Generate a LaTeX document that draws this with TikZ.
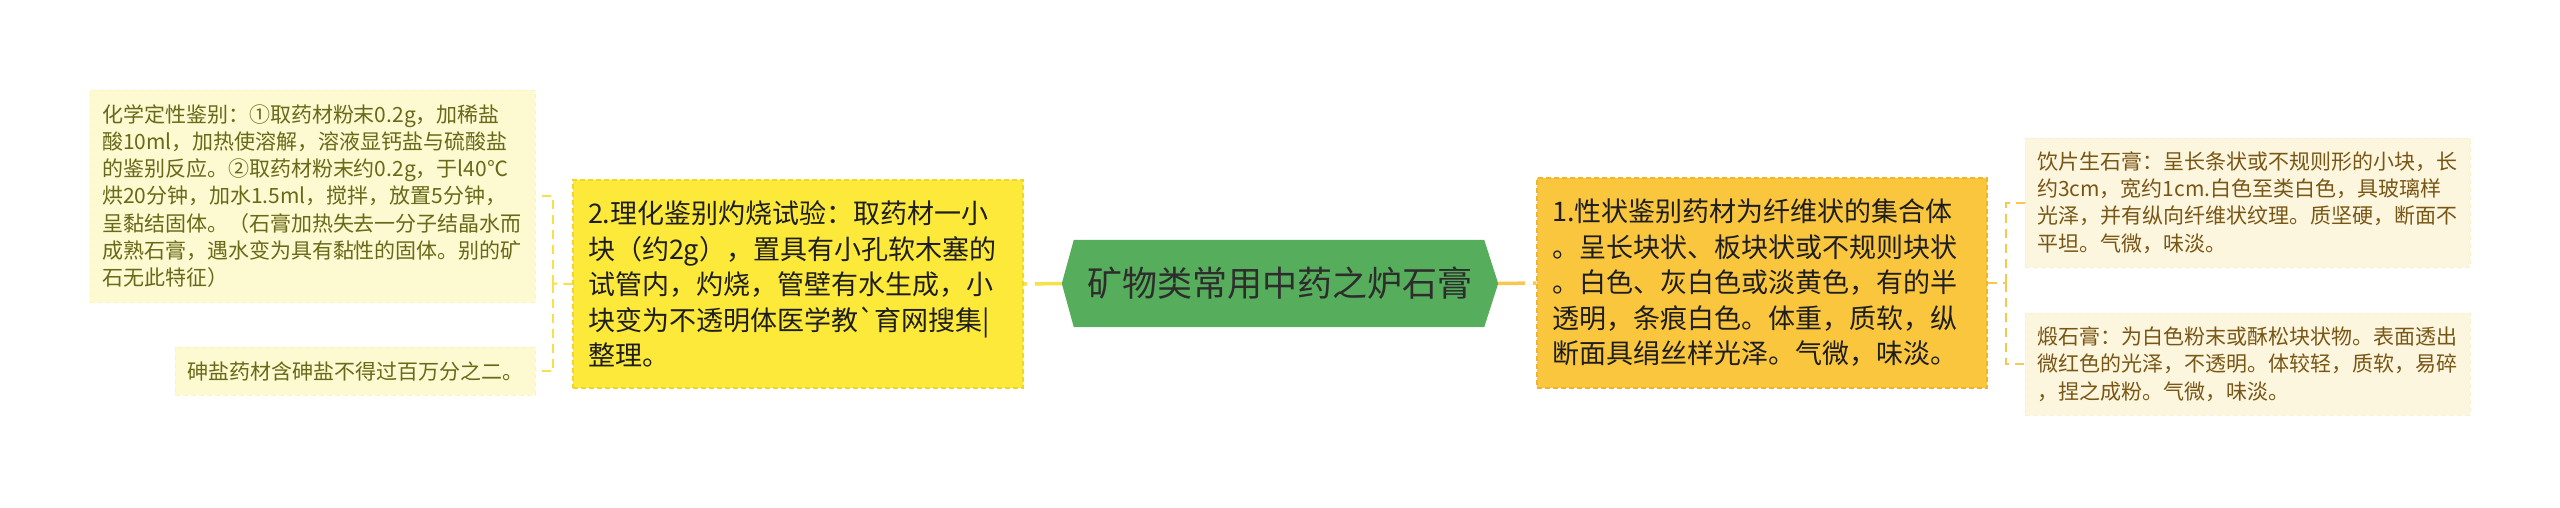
\documentclass[tikz,border=0pt]{standalone}
\usepackage{fontspec}
\newfontfamily\cjk{Noto Sans CJK SC}
\pgfdeclarelayer{bg}
\pgfsetlayers{bg,main}
\definecolor{rootgreen}{RGB}{86,174,92}
\definecolor{roottext}{RGB}{45,45,45}
\definecolor{ybox}{RGB}{252,233,58}
\definecolor{yboxedge}{RGB}{240,212,40}
\definecolor{obox}{RGB}{250,198,62}
\definecolor{oboxedge}{RGB}{240,180,45}
\definecolor{lleaf}{RGB}{253,249,208}
\definecolor{lleafedge}{RGB}{250,244,190}
\definecolor{lleaftext}{RGB}{105,105,25}
\definecolor{rleaf}{RGB}{253,246,222}
\definecolor{rleafedge}{RGB}{250,240,205}
\definecolor{rleaftext}{RGB}{120,86,22}
\definecolor{lline}{RGB}{246,226,72}
\definecolor{rline}{RGB}{248,200,78}
\definecolor{boxtext}{RGB}{30,30,30}
\tikzset{
  mainbox/.style={rectangle, align=left, anchor=center, inner ysep=0pt,
    font=\cjk\fontsize{27}{35.5}\selectfont, text=boxtext,
    line width=1.2pt, dash pattern=on 5pt off 3pt},
  leafbox/.style={rectangle, align=left, anchor=center, inner ysep=0pt,
    font=\cjk\fontsize{21}{27.3}\selectfont,
    line width=1pt, dash pattern=on 5pt off 3pt},
  centerlink/.style={line width=3.5pt, dash pattern=on 27pt off 8pt},
  bracketlink/.style={line width=2pt, dash pattern=on 9pt off 6pt},
}
\begin{document}
\begin{tikzpicture}[x=1pt,y=-1pt]
\useasboundingbox (0,0) rectangle (2560,507);
\begin{pgfonlayer}{bg}
\fill[white] (0,0) rectangle (2560,507);
\end{pgfonlayer}

% root
\node[rectangle, minimum width=436pt, minimum height=87pt, inner sep=0pt,
      font=\cjk\fontsize{35}{40}\selectfont, text=roottext] (root) at (1280,283.5)
      {矿物类常用中药之炉石膏};
\begin{pgfonlayer}{bg}
\fill[rootgreen] (root.west) -- ([xshift=12pt]root.north west) -- ([xshift=-14pt]root.north east)
  -- (root.east) -- ([xshift=-14pt]root.south east) -- ([xshift=12pt]root.south west) -- cycle;
\end{pgfonlayer}

% left main box
\node[mainbox, fill=ybox, draw=yboxedge, minimum width=450pt, minimum height=208pt,
      text width=420pt, inner xsep=15pt] (phys) at (798,284)
{2.理化鉴别灼烧试验：取药材一小\\
块（约2g），置具有小孔软木塞的\\
试管内，灼烧，管壁有水生成，小\\
块变为不透明体医学教`育网搜集|\\
整理。};

% right main box
\node[mainbox, fill=obox, draw=oboxedge, minimum width=450pt, minimum height=210pt,
      text width=420pt, inner xsep=15pt] (trait) at (1762,283)
{1.性状鉴别药材为纤维状的集合体\\
。呈长块状、板块状或不规则块状\\
。白色、灰白色或淡黄色，有的半\\
透明，条痕白色。体重，质软，纵\\
断面具绢丝样光泽。气微，味淡。};

% left leaves
\node[leafbox, fill=lleaf, draw=lleafedge, text=lleaftext, minimum width=445pt,
      minimum height=212pt, text width=421pt, inner xsep=12pt] (chem) at (312.5,196)
{化学定性鉴别：①取药材粉末0.2g，加稀盐\\
酸10ml，加热使溶解，溶液显钙盐与硫酸盐\\
的鉴别反应。②取药材粉末约0.2g，于l40℃\\
烘20分钟，加水1.5ml，搅拌，放置5分钟，\\
呈黏结固体。（石膏加热失去一分子结晶水而\\
成熟石膏，遇水变为具有黏性的固体。别的矿\\
石无此特征）};

\node[leafbox, fill=lleaf, draw=lleafedge, text=lleaftext, minimum width=360pt,
      minimum height=48pt, text width=336pt, inner xsep=12pt] (arsen) at (355,371)
{砷盐药材含砷盐不得过百万分之二。};

% right leaves
\node[leafbox, fill=rleaf, draw=rleafedge, text=rleaftext, minimum width=445pt,
      minimum height=129pt, text width=421pt, inner xsep=12pt] (raw) at (2247.5,202.5)
{饮片生石膏：呈长条状或不规则形的小块，长\\
约3cm，宽约1cm.白色至类白色，具玻璃样\\
光泽，并有纵向纤维状纹理。质坚硬，断面不\\
平坦。气微，味淡。};

\node[leafbox, fill=rleaf, draw=rleafedge, text=rleaftext, minimum width=445pt,
      minimum height=102pt, text width=421pt, inner xsep=12pt] (calc) at (2247.5,364)
{煅石膏：为白色粉末或酥松块状物。表面透出\\
微红色的光泽，不透明。体较轻，质软，易碎\\
，捏之成粉。气微，味淡。};

% connectors
\draw[centerlink, lline] (root.west) -- (phys.east);
\draw[centerlink, rline] (root.east) -- (trait.west);

\coordinate (lb) at (553,283.5);
\draw[bracketlink, lline] (phys.west) -- (lb);
\draw[bracketlink, lline] (lb) |- (chem.east);
\draw[bracketlink, lline] (lb) |- (arsen.east);

\coordinate (rb) at (2006,283);
\draw[bracketlink, rline] (trait.east) -- (rb);
\draw[bracketlink, rline] (rb) |- (raw.west);
\draw[bracketlink, rline] (rb) |- (calc.west);
\end{tikzpicture}
\end{document}
